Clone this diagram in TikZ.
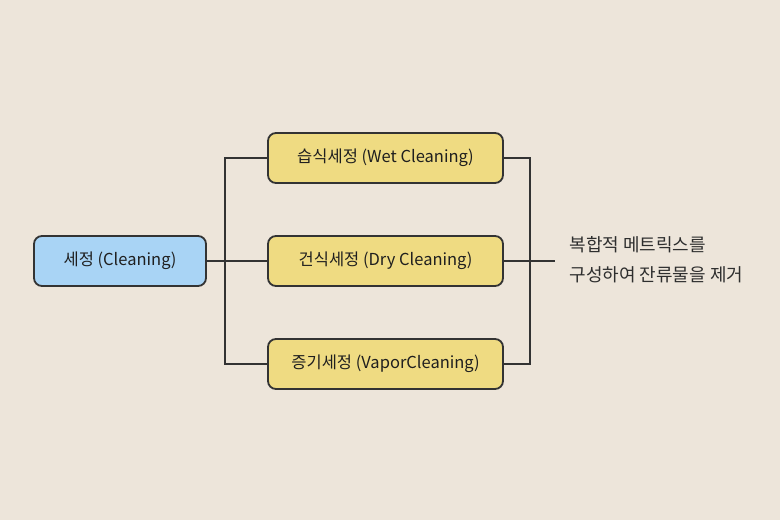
\documentclass[tikz,border=0pt]{standalone}
\usepackage{fontspec}
\setmainfont{Noto Sans CJK KR}
\definecolor{bgc}{HTML}{EDE5DA}
\definecolor{bluef}{HTML}{A9D4F5}
\definecolor{yelf}{HTML}{EFDB82}
\definecolor{edgec}{HTML}{333333}
\begin{document}
\begin{tikzpicture}[x=1pt,y=-1pt,
  box/.style={draw=edgec,line width=1.8pt,rounded corners=8pt,minimum height=50pt,inner sep=0pt,font=\fontsize{16.5}{20}\selectfont,text=black!88},
  conn/.style={draw=edgec,line width=1.8pt}]
\fill[bgc] (0,0) rectangle (780,520);
\useasboundingbox (0,0) rectangle (780,520);
\node[box,fill=bluef,minimum width=172pt] (root) at (120,261) {세정 (Cleaning)};
\node[box,fill=yelf,minimum width=235pt] (wet) at (385.5,158) {습식세정 (Wet Cleaning)};
\node[box,fill=yelf,minimum width=235pt] (dry) at (385.5,261) {건식세정 (Dry Cleaning)};
\node[box,fill=yelf,minimum width=235pt] (vap) at (385.5,364) {증기세정 (VaporCleaning)};
\coordinate (lt) at (225,158);
\coordinate (lb) at (225,364);
\coordinate (rt) at (530,158);
\coordinate (rb) at (530,364);
\coordinate (re) at (555,261);
\node[anchor=west,align=left,font=\fontsize{18}{30}\selectfont,text=black!82] (txt) at (566,260) {복합적 메트릭스를\\구성하여 잔류물을 제거};
\draw[conn] (root.east) -- (dry.west);
\draw[conn] (wet.west) -- (lt) -- (lb) -- (vap.west);
\draw[conn] (wet.east) -- (rt) -- (rb) -- (vap.east);
\draw[conn] (dry.east) -- (re);
\end{tikzpicture}
\end{document}
